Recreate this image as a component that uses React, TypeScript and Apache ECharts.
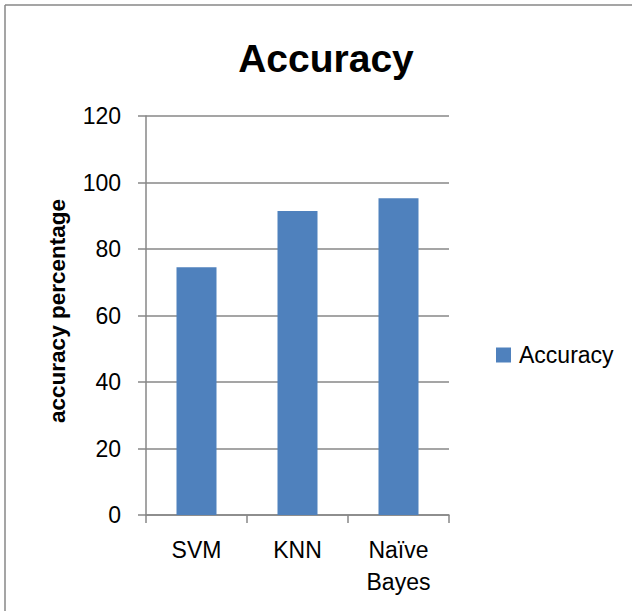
import React, { useEffect, useRef } from "react";
import * as echarts from "echarts";

const categories = ["SVM", "KNN", "Naïve Bayes"];
const accuracyValues = [74.5, 91.4, 95.3];
const seriesName = "Accuracy";
const chartTitle = "Accuracy";
const yAxisName = "accuracy percentage";

const FONT = "'Liberation Sans', Arial, sans-serif";
const GRAY = "#878787";

export default function App() {
  const ref = useRef<HTMLDivElement>(null);
  useEffect(() => {
    if (!ref.current) return;
    const chart = echarts.init(ref.current, undefined, { renderer: "svg" });
    chart.setOption({
      animation: false,
      backgroundColor: "#ffffff",
      textStyle: { fontFamily: FONT },
      title: {
        text: chartTitle,
        left: 321,
        top: 34,
        textAlign: "center",
        textStyle: { fontFamily: FONT, fontWeight: "bold", fontSize: 39, color: "#000" },
      },
      legend: {
        data: [seriesName],
        left: 491,
        top: 338,
        icon: "rect",
        itemWidth: 15,
        itemHeight: 15,
        itemGap: 0,
        textStyle: { fontFamily: FONT, fontSize: 23, color: "#000", padding: [0, 0, 0, 3], lineHeight: 24 },
      },
      grid: { left: 146, right: 183, top: 116, bottom: 96, containLabel: false },
      xAxis: {
        type: "category",
        data: categories,
        axisLine: { show: true, lineStyle: { color: GRAY, width: 1.5 } },
        axisTick: { show: true, length: 8, lineStyle: { color: GRAY, width: 1.5 } },
        axisLabel: {
          fontFamily: FONT,
          fontSize: 23,
          color: "#000",
          margin: 19,
          lineHeight: 32,
          interval: 0,
          formatter: (v: string) => v.replace(" ", "\n"),
        },
      },
      yAxis: {
        type: "value",
        min: 0,
        max: 120,
        interval: 20,
        axisLine: { show: true, lineStyle: { color: GRAY, width: 1.5 } },
        axisTick: { show: true, length: 8, lineStyle: { color: GRAY, width: 1.5 } },
        axisLabel: { fontFamily: FONT, fontSize: 23, color: "#000", margin: 25 },
        splitLine: { show: true, lineStyle: { color: GRAY, width: 1.5 } },
      },
      graphic: [
        {
          type: "line",
          shape: { x1: 5, y1: 5, x2: 632, y2: 5 },
          style: { stroke: GRAY, lineWidth: 1.5 },
        },
        {
          type: "line",
          shape: { x1: 5, y1: 5, x2: 5, y2: 611 },
          style: { stroke: GRAY, lineWidth: 1.5 },
        },
        {
          type: "text",
          x: 57.5,
          y: 311,
          rotation: Math.PI / 2,
          style: {
            text: yAxisName,
            fontFamily: FONT,
            fontWeight: "bold",
            fontSize: 22.5,
            fill: "#000",
            align: "center",
            verticalAlign: "middle",
          },
        },
      ],
      series: [
        {
          name: seriesName,
          type: "bar",
          data: accuracyValues,
          barWidth: 40,
          itemStyle: { color: "#4F81BD" },
        },
      ],
    });
    return () => chart.dispose();
  }, []);
  return (
    <div
      ref={ref}
      style={{ position: "absolute", left: 0, top: 0, width: 632, height: 611 }}
    />
  );
}
